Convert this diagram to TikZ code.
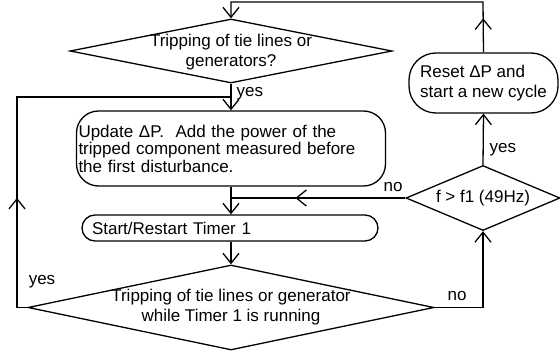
\documentclass[tikz,border=0pt]{standalone}
\usepackage{fontspec}
\setmainfont{Liberation Sans}
\usetikzlibrary{arrows.meta,shapes.geometric,decorations.markings}
\begin{document}
\begin{tikzpicture}[x=1pt,y=-1pt,line width=1.3pt,
  font=\fontsize{17}{20}\selectfont,
  tip/.tip={Straight Barb[length=10pt,width=16pt]},
  arr/.style={-tip},
  midarr/.style={postaction={decorate},decoration={markings,
     mark=at position #1 with {\arrow{Straight Barb[length=10pt,width=16pt]}}}},
  dia/.style={draw,diamond,inner sep=0pt},
  rbox/.style={draw,rectangle,inner sep=0pt},
  txt/.style={inner sep=0pt,align=center},
  lab/.style={inner sep=0pt}]
\useasboundingbox (0,0) rectangle (560,353);
% shapes
\node[dia,minimum width=322pt,minimum height=64pt] (d1) at (231,51) {};
\node[txt] (d1t) at (231,52) {Tripping of tie lines or\\generators?};
\node[rbox,rounded corners=22pt,minimum height=75pt,inner xsep=2pt,text width=305pt,align=left,
  font=\fontsize{17}{17.5}\selectfont] (upd) at (231,148.5)
  {Update ΔP.\ \ Add the power of the\\tripped component measured before\\the first disturbance.};
\node[rbox,rounded corners=13pt,minimum height=26pt,inner xsep=10pt,text width=276pt,align=left] (timer) at (230,228) {Start/Restart Timer 1};
\node[dia,minimum width=406pt,minimum height=85pt] (d3) at (231,307.5) {};
\node[txt] (d3t) at (231,307) {Tripping of tie lines or generator\\while Timer 1 is running};
\node[dia,minimum width=154pt,minimum height=65pt] (f) at (483,198) {};
\node[txt] (ft) at (483,198) {f > f1 (49Hz)};
\node[rbox,rounded corners=27pt,minimum width=149pt,minimum height=60pt,align=left] (reset) at (483.5,83) {Reset ΔP and\\start a new cycle};
% helper coordinates
\coordinate (tr) at (483,2);
\coordinate (tl) at (231,2);
\coordinate (ll1) at (17,307.5);
\coordinate (ll2) at (17,97);
\coordinate (j2) at (231,97);
% connectors
\draw[arr,midarr=34pt] (reset.north) -- (tr) -- (tl) -- (d1.north);
\draw[arr] (d1.south) -- (upd.north);
\draw[arr] (upd.south) -- (upd.south |- timer.north);
\draw[arr] (timer.south -| d3.north) -- (d3.north);
\draw[midarr=110pt] (f.west) -- (f.west -| upd.south);
\draw[arr] (d3.east) -| (f.south);
\draw[arr] (f.north) -- (reset.south);
\draw[midarr=120pt] (d3.west) -- (ll1) -- (ll2) -- (j2);
% labels
\node[lab,anchor=west] (yes1) at (236,94) {yes};
\node[lab,anchor=west] (yes2) at (489,150) {yes};
\node[lab] (no1) at (393,187) {no};
\node[lab] (no2) at (457,296) {no};
\node[lab] (yes3) at (42,282) {yes};
\end{tikzpicture}
\end{document}
